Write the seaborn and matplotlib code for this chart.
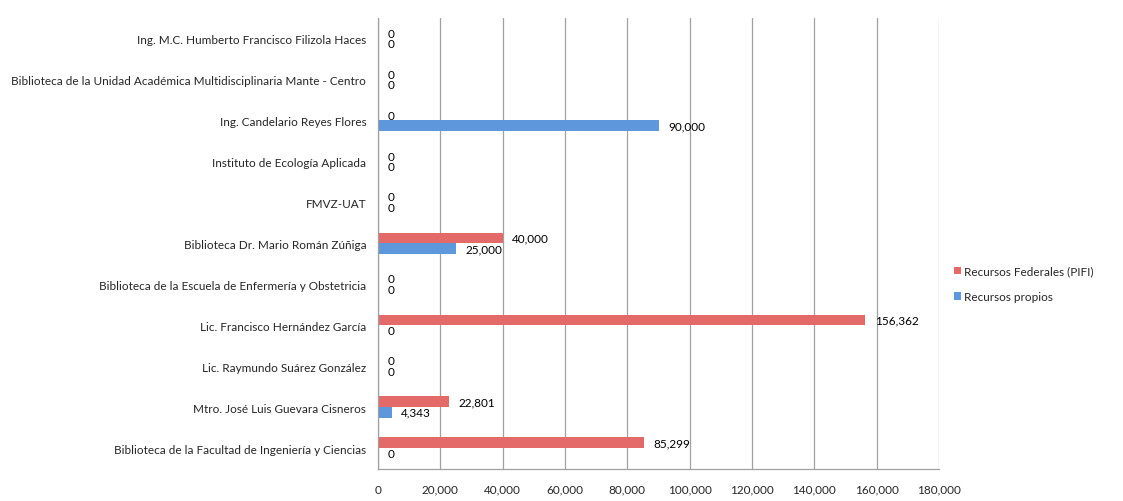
import matplotlib
matplotlib.use("Agg")
import matplotlib.pyplot as plt
import seaborn as sns
import pandas as pd
import numpy as np
from matplotlib.ticker import FuncFormatter, FixedLocator

categories = [
    "Ing. M.C. Humberto Francisco Filizola Haces",
    "Biblioteca de la Unidad Académica Multidisciplinaria Mante - Centro",
    "Ing. Candelario Reyes Flores",
    "Instituto de Ecología Aplicada",
    "FMVZ-UAT",
    "Biblioteca Dr. Mario Román Zúñiga",
    "Biblioteca de la Escuela de Enfermería y Obstetricia",
    "Lic. Francisco Hernández García",
    "Lic. Raymundo Suárez González",
    "Mtro. José Luis Guevara Cisneros",
    "Biblioteca de la Facultad de Ingeniería y Ciencias",
]
federal = [0, 0, 0, 0, 0, 40000, 0, 156362, 0, 22801, 85299]
propios = [0, 0, 90000, 0, 0, 25000, 0, 0, 0, 4343, 0]
series = ["Recursos Federales (PIFI)", "Recursos propios"]
colors = ["#E46A6A", "#5E97DC"]
xticks = [0, 20000, 40000, 60000, 80000, 100000, 120000, 140000, 160000, 180000]

df = pd.DataFrame({
    "Categoria": categories * 2,
    "Serie": [series[0]] * len(categories) + [series[1]] * len(categories),
    "Valor": federal + propios,
})

sns.set_style("white")
plt.rcParams["font.family"] = ["Lato", "DejaVu Sans"]

fig = plt.figure(figsize=(11.23, 5.02), dpi=100)
ax = fig.add_axes([378 / 1123, 1 - 469.5 / 502, (939 - 378) / 1123, (469.5 - 19) / 502])

sns.barplot(data=df, y="Categoria", x="Valor", hue="Serie", hue_order=series,
            order=categories, palette=colors, orient="h", width=0.52,
            ax=ax, legend=True, saturation=1, edgecolor="none")

for cont in ax.containers:
    ax.bar_label(cont, labels=[f"{v:,.0f}" for v in cont.datavalues],
                 padding=7, fontsize=8.5, color="#000000")

ax.set_xlim(0, 180000)
ax.set_ylim(len(categories) - 0.5, -0.5)
ax.xaxis.set_major_locator(FixedLocator(xticks))
ax.xaxis.set_major_formatter(FuncFormatter(lambda v, p: f"{v:,.0f}"))
ax.grid(axis="x", color="#A0A0A0", linewidth=0.9)
ax.grid(axis="y", visible=False)
ax.set_axisbelow(True)
ax.set_xlabel("")
ax.set_ylabel("")

for s in ["top", "right"]:
    ax.spines[s].set_visible(False)
for s in ["left", "bottom"]:
    ax.spines[s].set_color("#A0A0A0")
    ax.spines[s].set_linewidth(0.9)

ax.tick_params(axis="x", which="major", direction="out", length=5, color="#A0A0A0",
               labelsize=8.5, pad=6)
ax.tick_params(axis="y", which="major", length=0, labelsize=8.5, pad=8.5)
ax.yaxis.set_minor_locator(FixedLocator(np.arange(-0.5, len(categories), 1.0)))
ax.tick_params(axis="y", which="minor", direction="out", length=5, color="#A0A0A0")

leg = ax.get_legend()
handles, labels = ax.get_legend_handles_labels()
leg.remove()
fig.legend(handles, labels, loc="center left", bbox_to_anchor=(943 / 1123, 1 - 285 / 502),
           frameon=False, fontsize=8.5, handlelength=0.6, handleheight=0.6,
           handletextpad=0.3, labelspacing=1.25)

fig.savefig("out.png", dpi=100)
